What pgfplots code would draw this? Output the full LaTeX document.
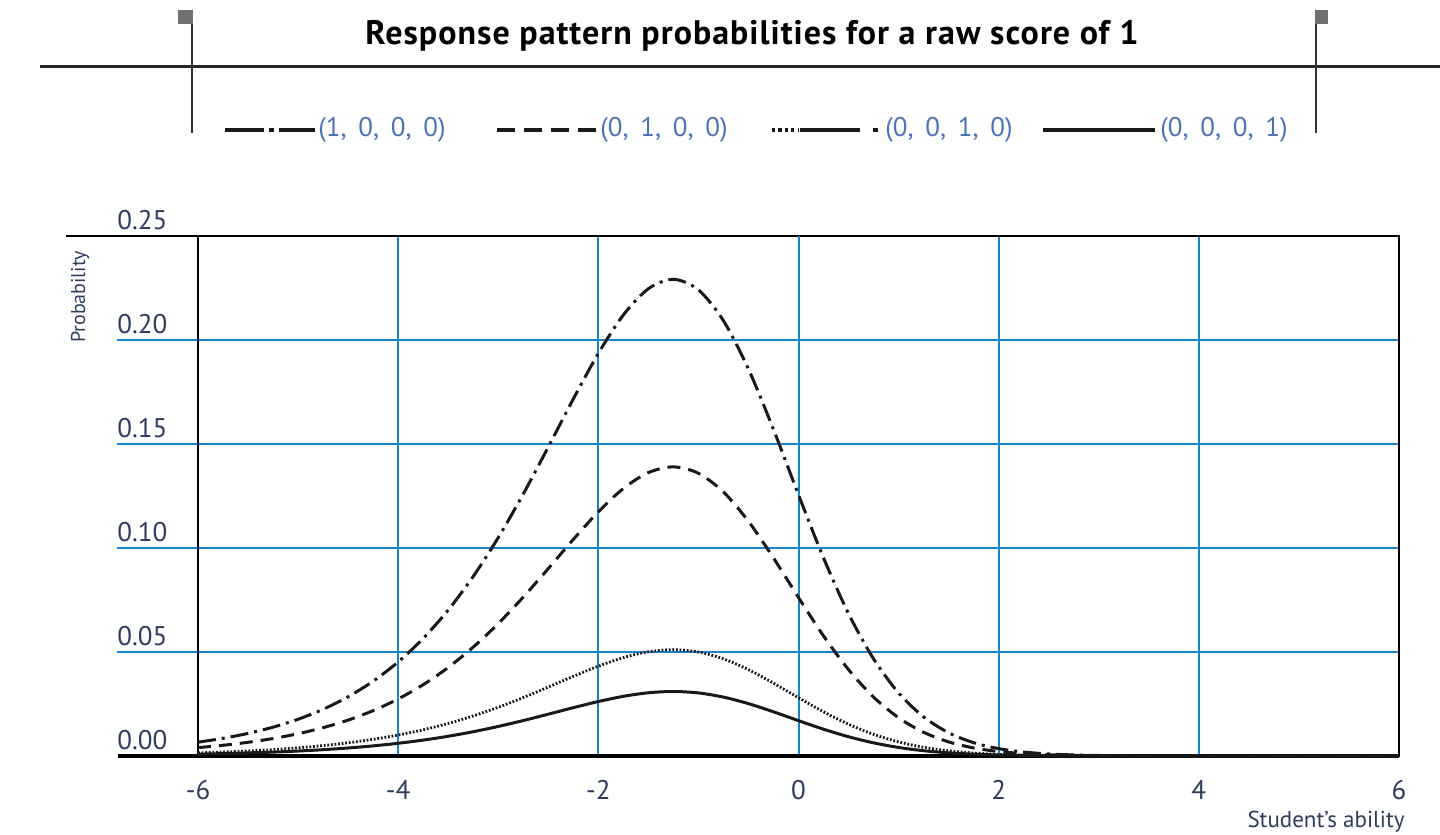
\documentclass[border=0pt]{standalone}
\usepackage{fontspec}
\setmainfont{PT Sans}
\usepackage{pgfplots}
\usepackage{pgfplotstable}
\pgfplotsset{compat=1.18}

\definecolor{gridblue}{RGB}{24,132,206}
\definecolor{ticktext}{HTML}{2E3B5E}
\definecolor{legtext}{HTML}{4A74B4}
\definecolor{capgrey}{HTML}{707070}

% Rasch response-pattern probabilities, raw score 1, four items
\pgfplotstableread{
theta p1000 p0100 p0010 p0001
-6.00 0.006650 0.004033 0.001484 0.000900
-5.75 0.008506 0.005159 0.001898 0.001151
-5.50 0.010870 0.006593 0.002425 0.001471
-5.25 0.013872 0.008414 0.003095 0.001877
-5.00 0.017672 0.010719 0.003943 0.002392
-4.75 0.022464 0.013625 0.005012 0.003040
-4.50 0.028477 0.017272 0.006354 0.003854
-4.25 0.035968 0.021816 0.008026 0.004868
-4.00 0.045226 0.027431 0.010091 0.006121
-3.75 0.056540 0.034293 0.012616 0.007652
-3.50 0.070180 0.042566 0.015659 0.009498
-3.25 0.086330 0.052362 0.019263 0.011684
-3.00 0.105007 0.063690 0.023430 0.014211
-2.75 0.125971 0.076405 0.028108 0.017048
-2.50 0.148573 0.090114 0.033151 0.020107
-2.25 0.171673 0.104125 0.038305 0.023234
-2.00 0.193563 0.117402 0.043189 0.026196
-1.75 0.212039 0.128608 0.047312 0.028696
-1.50 0.224660 0.136263 0.050128 0.030405
-1.25 0.229181 0.139005 0.051137 0.031016
-1.00 0.224122 0.135937 0.050008 0.030332
-0.75 0.209291 0.126941 0.046699 0.028325
-0.50 0.186021 0.112827 0.041507 0.025175
-0.25 0.156984 0.095215 0.035028 0.021246
0.00 0.125598 0.076179 0.028025 0.016998
0.25 0.095216 0.057751 0.021246 0.012886
0.50 0.068433 0.041507 0.015269 0.009261
0.75 0.046700 0.028325 0.010420 0.006320
1.00 0.030331 0.018396 0.006768 0.004105
1.25 0.018813 0.011411 0.004198 0.002546
1.50 0.011186 0.006784 0.002496 0.001514
1.75 0.006404 0.003884 0.001429 0.000867
2.00 0.003545 0.002150 0.000791 0.000480
2.25 0.001908 0.001157 0.000426 0.000258
2.50 0.001000 0.000607 0.000223 0.000135
2.75 0.000514 0.000312 0.000115 0.000070
3.00 0.000260 0.000158 0.000058 0.000035
3.50 0.000064 0.000039 0.000014 0.000009
4.00 0.000015 0.000009 0.000003 0.000002
5.00 0.000001 0.000001 0.000000 0.000000
6.00 0.000000 0.000000 0.000000 0.000000
}\probs

\tikzset{
  dashdotA/.style={dash pattern=on 9pt off 3pt on 1.5pt off 3pt},
  dashA/.style={dash pattern=on 6.5pt off 4pt},
  dotA/.style={dash pattern=on 0.9pt off 0.9pt},
}

\begin{document}
\begin{tikzpicture}[x=1pt,y=1pt]
\useasboundingbox (0pt,0pt) rectangle (720pt,-417.5pt);

% ---- header: title, rule, legend ----
\node[font=\fontsize{17}{20}\selectfont\bfseries\addfontfeatures{LetterSpace=3},
  anchor=base, inner sep=0] at (376pt,-22pt)
  {Response pattern probabilities for a raw score of 1};
\draw[line width=1.1pt, black!85] (20pt,-33.25pt) -- (720pt,-33.25pt);
\draw[line width=1pt, black!80] (96pt,-12pt) -- (96pt,-66.5pt);
\fill[capgrey] (89pt,-5pt) rectangle (96.5pt,-12pt);
\draw[line width=1pt, black!80] (658pt,-12pt) -- (658pt,-66.5pt);
\fill[capgrey] (657.5pt,-5pt) rectangle (664pt,-12pt);

\begin{scope}[line width=1.8pt, black!90]
  \draw (112.5pt,-65pt) -- (132pt,-65pt);
  \draw (134.5pt,-65pt) -- (137pt,-65pt);
  \draw (139.5pt,-65pt) -- (157.5pt,-65pt);
  \draw[dash pattern=on 9pt off 4.5pt] (248.5pt,-65pt) -- (298pt,-65pt);
  \draw[dash pattern=on 1.6pt off 1.6pt] (386pt,-65pt) -- (399pt,-65pt);
  \draw (400pt,-65pt) -- (430pt,-65pt);
  \draw (436.5pt,-65pt) -- (439pt,-65pt);
  \draw (521.5pt,-65pt) -- (577.5pt,-65pt);
\end{scope}
\begin{scope}[every node/.style={anchor=west, inner sep=0, text=legtext,
    font=\fontsize{13.5}{15}\selectfont}]
  \node at (159pt,-65pt) {(1,\ \,0,\ \,0,\ \,0)};
  \node at (300pt,-65pt) {(0,\ \,1,\ \,0,\ \,0)};
  \node at (442.5pt,-65pt) {(0,\ \,0,\ \,1,\ \,0)};
  \node at (580pt,-65pt) {(0,\ \,0,\ \,0,\ \,1)};
\end{scope}

% ---- grid rules that run out to the left of the frame ----
\foreach \k in {1,2,3,4}
  \draw[gridblue, line width=1pt] (58.5pt,-378pt+52pt*\k) -- (99pt,-378pt+52pt*\k);
\draw[black, line width=1pt] (33pt,-118pt) -- (99pt,-118pt);
\draw[black, line width=1.7pt] (59pt,-378pt) -- (99pt,-378pt);

% ---- chart ----
\begin{axis}[
  at={(99pt,-378pt)}, anchor=south west,
  scale only axis, width=600.5pt, height=260pt,
  xmin=-6, xmax=6, ymin=0, ymax=0.25,
  clip=false,
  axis line style={black, line width=1pt},
  tick style={draw=none},
  xtick={-6,-4,-2,0,2,4,6},
  xticklabels={-6,-4,-2,0,2,4,6},
  ytick={0,0.05,0.10,0.15,0.20,0.25},
  yticklabels={0.00,0.05,0.10,0.15,0.20,0.25},
  xmajorgrids, ymajorgrids,
  major grid style={gridblue, line width=1pt},
  extra x ticks={0},
  extra x tick labels={},
  extra x tick style={grid style={black, line width=1pt}},
  xticklabel style={font=\fontsize{13.5}{16}\selectfont, text=ticktext,
    anchor=north, inner sep=0, yshift=-12pt},
  yticklabel style={font=\fontsize{13.5}{16}\selectfont, text=ticktext,
    anchor=south west, inner sep=0, xshift=-40.5pt, yshift=3pt},
  xlabel={Student's ability},
  xlabel style={at={(axis description cs:1,0)}, anchor=east, inner sep=0,
    xshift=3pt, yshift=-33pt, font=\fontsize{11.5}{13}\selectfont, text=ticktext},
  ylabel={Probability},
  ylabel style={at={([xshift=-59pt]axis description cs:0,0.883)}, anchor=center,
    inner sep=0, font=\fontsize{10}{12}\selectfont, text=ticktext},
]
\draw[black, line width=1.7pt] (axis cs:-6,0) -- (axis cs:6,0);

\addplot[black!90, line width=1.5pt, dashdotA, smooth] table[x=theta, y=p1000] {\probs};
\addplot[black!90, line width=1.5pt, dashA, smooth] table[x=theta, y=p0100] {\probs};
\addplot[black!90, line width=1.4pt, dotA, smooth] table[x=theta, y=p0010] {\probs};
\addplot[black!90, line width=1.5pt, smooth] table[x=theta, y=p0001] {\probs};
\end{axis}
\end{tikzpicture}
\end{document}
